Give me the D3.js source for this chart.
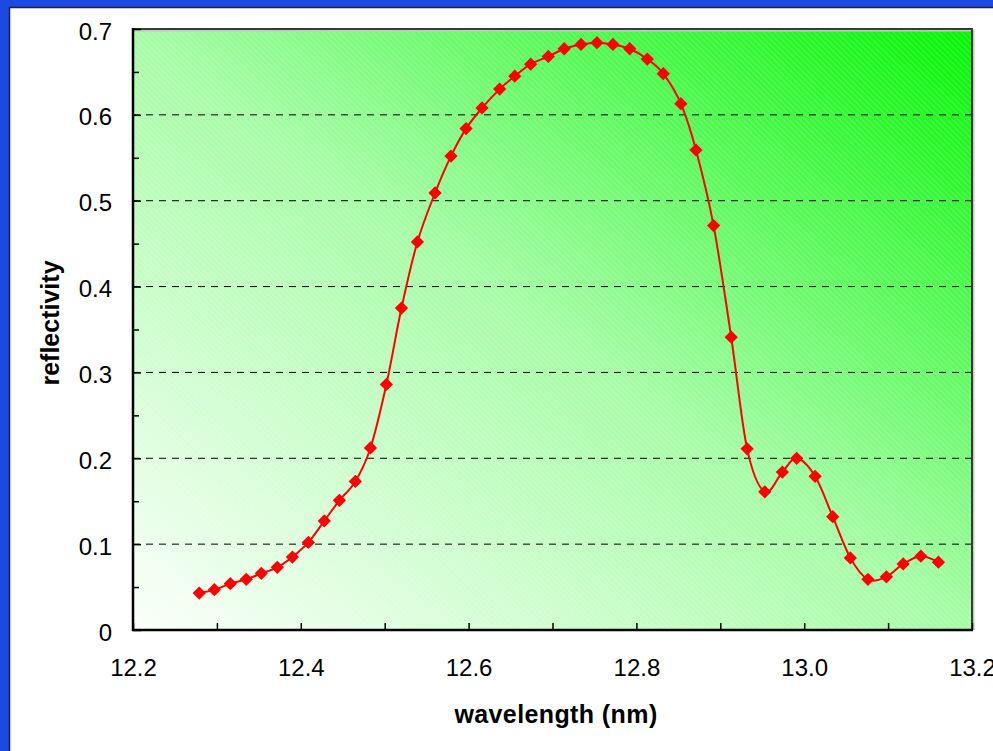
<!DOCTYPE html>
<meta charset="utf-8">
<script src="https://d3js.org/d3.v7.min.js"></script>
<style>
body { margin: 0; background: #fff; }
svg { display: block; font-family: "Liberation Sans", Arial, sans-serif; }
.axis path { display: none; }
.axis line { stroke: #000; stroke-width: 1.5px; }
.axis text { font-size: 24px; fill: #000; font-family: "Liberation Sans", Arial, sans-serif; }
.grid line { stroke: #000; stroke-width: 1px; stroke-dasharray: 7 6; }
.title { font-size: 25px; font-weight: bold; fill: #000; }
</style>
<body></body>
<script>

// measured points (wavelength in nm, reflectivity)
var wavelength = [12.279, 12.297, 12.316, 12.335, 12.353, 12.372, 12.390, 12.409, 12.428, 12.446,
  12.465, 12.483, 12.502, 12.520, 12.539, 12.560, 12.579, 12.597, 12.616, 12.637,
  12.655, 12.674, 12.695, 12.714, 12.734, 12.753, 12.772, 12.792, 12.813, 12.832,
  12.853, 12.871, 12.892, 12.913, 12.932, 12.953, 12.974, 12.991, 13.013, 13.034,
  13.055, 13.076, 13.098, 13.118, 13.139, 13.160];
var reflectivity = [0.043, 0.047, 0.054, 0.059, 0.066, 0.073, 0.085, 0.102, 0.127, 0.151,
  0.173, 0.212, 0.286, 0.375, 0.452, 0.509, 0.552, 0.584, 0.608, 0.630,
  0.645, 0.659, 0.668, 0.677, 0.682, 0.684, 0.682, 0.677, 0.665, 0.648,
  0.613, 0.559, 0.471, 0.341, 0.211, 0.161, 0.184, 0.200, 0.179, 0.132,
  0.084, 0.059, 0.062, 0.077, 0.086, 0.079];

var xTicks = [12.2, 12.3, 12.4, 12.5, 12.6, 12.7, 12.8, 12.9, 13.0, 13.1, 13.2];
var xLabels = [12.2, 12.4, 12.6, 12.8, 13.0, 13.2];
var yTicks = [0, 0.1, 0.2, 0.3, 0.4, 0.5, 0.6, 0.7];
var yMinorTicks = [0.05, 0.15, 0.25, 0.35, 0.45, 0.55, 0.65];
var gridValues = [0.1, 0.2, 0.3, 0.4, 0.5, 0.6];

var data = wavelength.map(function(w, i) { return {x: w, y: reflectivity[i]}; });

var W = 993, H = 751;
var margin = {top: 29, right: 21, bottom: 121, left: 133};
var width = W - margin.left - margin.right;
var height = H - margin.top - margin.bottom;

var svg = d3.select("body").append("svg")
  .attr("width", W)
  .attr("height", H);

// blue slide frame (top and left)
var blue = "#1c49e2";
svg.append("rect").attr("x", 0).attr("y", 0).attr("width", W).attr("height", 7).attr("fill", blue);
svg.append("rect").attr("x", 0).attr("y", 0).attr("width", 9).attr("height", H).attr("fill", blue);
svg.append("path")
  .attr("d", "M9.5," + H + "V7.5H" + W)
  .attr("fill", "none")
  .attr("stroke", "#16224f")
  .attr("stroke-width", 1.5);

var defs = svg.append("defs");

var grad = defs.append("linearGradient")
  .attr("id", "bg")
  .attr("x1", 0).attr("y1", 1).attr("x2", 1).attr("y2", 0);
grad.append("stop").attr("offset", "0%").attr("stop-color", "#fbfffb");
grad.append("stop").attr("offset", "50%").attr("stop-color", "#a6fca6");
grad.append("stop").attr("offset", "100%").attr("stop-color", "#04f504");

var hatch = defs.append("pattern")
  .attr("id", "hatch")
  .attr("patternUnits", "userSpaceOnUse")
  .attr("width", 4).attr("height", 4)
  .attr("patternTransform", "rotate(45)");
hatch.append("rect")
  .attr("x", 0).attr("y", 0).attr("width", 4).attr("height", 1)
  .attr("fill", "#fff").attr("fill-opacity", 0.18);

var g = svg.append("g")
  .attr("transform", "translate(" + margin.left + "," + margin.top + ")");

// scales
var x = d3.scaleLinear().domain([12.2, 13.2]).range([0, width]);
var y = d3.scaleLinear().domain([0, 0.7]).range([height, 0]);

// plot background
g.append("rect").attr("width", width).attr("height", height).attr("fill", "url(#bg)");
g.append("rect").attr("width", width).attr("height", height).attr("fill", "url(#hatch)");

// dashed gridlines
g.append("g")
  .attr("class", "grid")
  .selectAll("line")
  .data(gridValues).enter().append("line")
  .attr("x1", 0).attr("x2", width)
  .attr("y1", function(d) { return y(d); })
  .attr("y2", function(d) { return y(d); });

// plot frame: shadowed top/right, black axes left/bottom
g.append("path")
  .attr("d", "M1," + 1.5 + "H" + (width + 1.5) + "V" + height)
  .attr("fill", "none").attr("stroke", "#c8c8c8").attr("stroke-width", 2);
g.append("path")
  .attr("d", "M0,0H" + width + "V" + height)
  .attr("fill", "none").attr("stroke", "#3a3a3a").attr("stroke-width", 2);

// axes
var xAxis = d3.axisBottom(x)
  .tickValues(xTicks)
  .tickSize(-7)
  .tickPadding(29)
  .tickFormat(function(d) {
    return xLabels.some(function(v) { return Math.abs(v - d) < 1e-9; }) ? d3.format(".1f")(d) : "";
  });

g.append("g")
  .attr("class", "x axis")
  .attr("transform", "translate(0," + height + ")")
  .call(xAxis);

var yAxis = d3.axisLeft(y)
  .tickValues(yTicks)
  .tickSize(-8)
  .tickPadding(21)
  .tickFormat(function(d) { return d === 0 ? "0" : d3.format(".1f")(d); });

g.append("g")
  .attr("class", "y axis")
  .call(yAxis)
  .selectAll("text").attr("dy", "0.42em");

g.append("g")
  .attr("class", "y axis minor")
  .call(d3.axisLeft(y).tickValues(yMinorTicks).tickSize(-6).tickFormat(""));

g.append("line")
  .attr("x1", 0).attr("x2", 0).attr("y1", -1).attr("y2", height + 1)
  .attr("stroke", "#000").attr("stroke-width", 2.5);
g.append("line")
  .attr("x1", -1).attr("x2", width + 1).attr("y1", height).attr("y2", height)
  .attr("stroke", "#000").attr("stroke-width", 2.5);

// smoothed line
var line = d3.line()
  .x(function(d) { return x(d.x); })
  .y(function(d) { return y(d.y); })
  .curve(d3.curveCatmullRom.alpha(0));

g.append("path")
  .datum(data)
  .attr("d", line)
  .attr("fill", "none")
  .attr("stroke", "#ff0000")
  .attr("stroke-width", 2);

// diamond markers
g.selectAll(".marker")
  .data(data).enter().append("path")
  .attr("class", "marker")
  .attr("d", d3.symbol(d3.symbolSquare, 88))
  .attr("transform", function(d) { return "translate(" + x(d.x) + "," + y(d.y) + ") rotate(45)"; })
  .attr("fill", "#ff0000");

// axis titles
svg.append("text")
  .attr("class", "title")
  .attr("transform", "translate(50,323) rotate(-90)")
  .attr("text-anchor", "middle")
  .attr("dy", "0.35em")
  .text("reflectivity");

svg.append("text")
  .attr("class", "title")
  .attr("x", 556)
  .attr("y", 723)
  .attr("text-anchor", "middle")
  .style("letter-spacing", "0.4px")
  .text("wavelength (nm)");

</script>
